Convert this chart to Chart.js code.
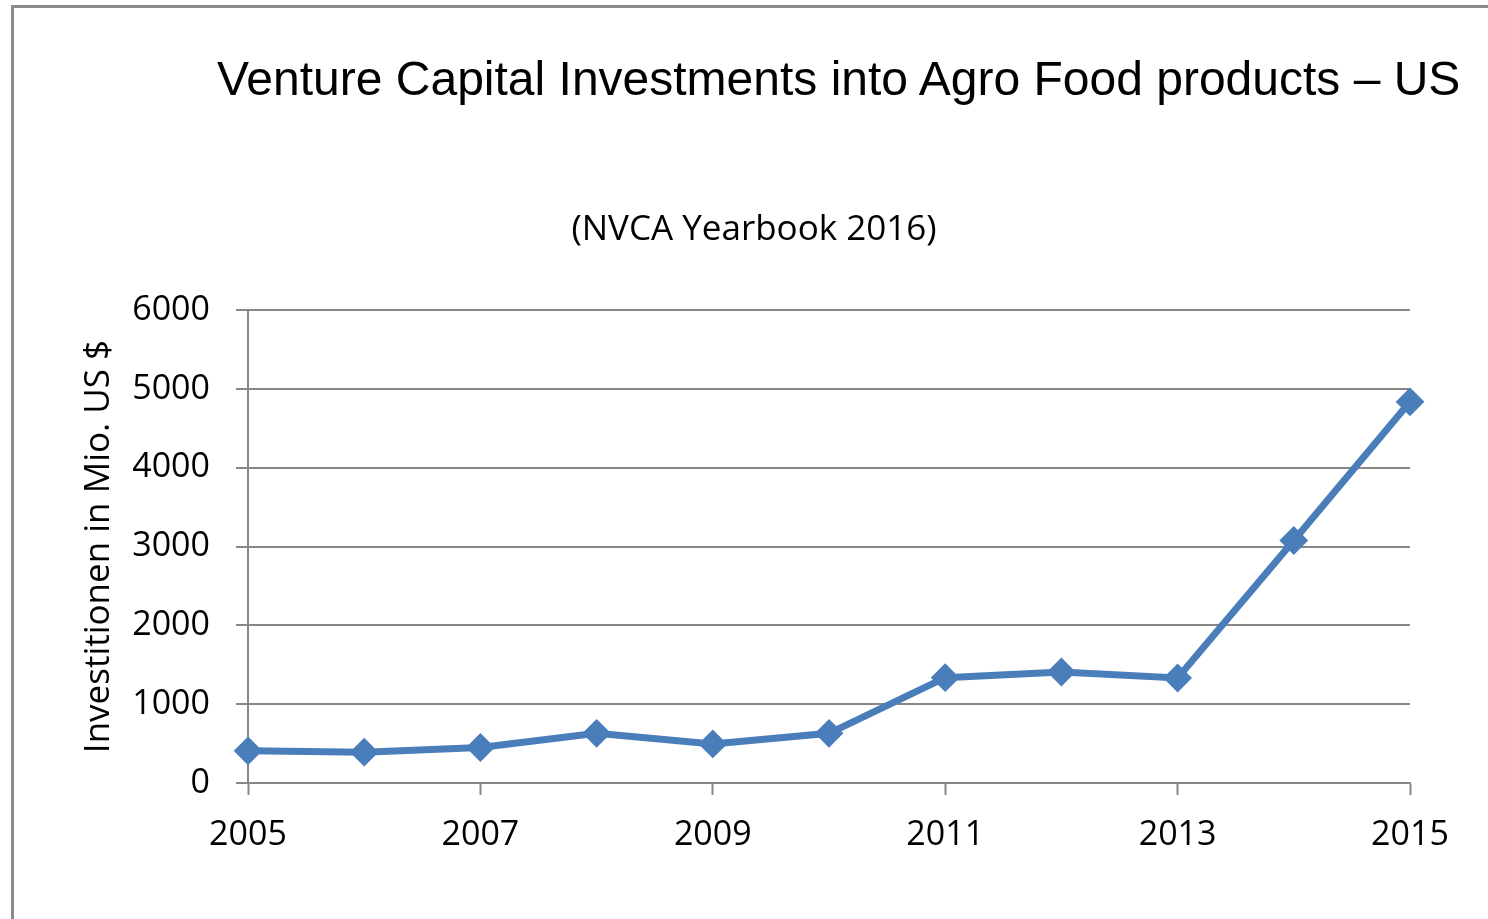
<!DOCTYPE html>
<html>
<head>
<meta charset="utf-8">
<script src="https://cdn.jsdelivr.net/npm/chart.js@4/dist/chart.umd.min.js"></script>
<style>
  html, body { margin: 0; padding: 0; background: #fff; }
  #wrap { position: relative; width: 1488px; height: 919px; overflow: hidden; background: #fff; }
  #frame { position: absolute; left: 11px; top: 5px; width: 1600px; height: 1000px; border: 3px solid #8c8c8c; box-sizing: border-box; }
  #cv { position: absolute; left: 0; top: 0; }
  #title { position: absolute; left: 217px; top: 55px; font-family: "Liberation Sans", Arial, sans-serif; font-size: 48px; line-height: 48px; color: #000; white-space: nowrap; }
  #subtitle { position: absolute; left: 754px; top: 206px; transform: translateX(-50%); font-family: "Open Sans", sans-serif; font-size: 35px; line-height: 42px; color: #000; white-space: nowrap; }
</style>
</head>
<body>
<div id="wrap">
  <div id="frame"></div>
  <canvas id="cv" width="1488" height="919"></canvas>
  <div id="title">Venture Capital Investments into Agro Food products – US</div>
  <div id="subtitle">(NVCA Yearbook 2016)</div>
</div>
<script>
const years = ["2005","2006","2007","2008","2009","2010","2011","2012","2013","2014","2015"];
const investments = [408, 391, 450, 630, 496, 630, 1336, 1408, 1332, 3076, 4835];
const yTicks = [0, 1000, 2000, 3000, 4000, 5000, 6000];
const yAxisTitle = "Investitionen in Mio. US $";

const GRID = "#878787";
const LINE = "#4a7ebb";

new Chart(document.getElementById("cv"), {
  type: "line",
  data: {
    labels: years,
    datasets: [{
      data: investments,
      borderColor: LINE,
      backgroundColor: LINE,
      borderWidth: 7,
      pointStyle: "rectRot",
      pointRadius: 13,
      pointBorderWidth: 2,
      pointBackgroundColor: LINE,
      pointBorderColor: LINE,
      tension: 0,
      fill: false
    }]
  },
  options: {
    responsive: false,
    animation: false,
    layout: { padding: { left: 0, top: 310, right: 78, bottom: 0 } },
    plugins: { legend: { display: false }, tooltip: { enabled: false }, title: { display: false } },
    scales: {
      x: {
        type: "category",
        offset: false,
        afterFit: (s) => { s.height = 136; },
        grid: {
          drawOnChartArea: false,
          drawTicks: true,
          tickLength: 12,
          tickWidth: 2,
          tickColor: (ctx) => (ctx.index % 2 === 0 ? GRID : "rgba(0,0,0,0)")
        },
        border: { display: true, color: GRID, width: 2 },
        ticks: {
          autoSkip: false,
          maxRotation: 0,
          minRotation: 0,
          padding: 20,
          color: "#000",
          font: { family: "Open Sans", size: 34 },
          callback: function(v, i) { return i % 2 === 0 ? years[i] : ""; }
        }
      },
      y: {
        min: yTicks[0],
        max: yTicks[yTicks.length - 1],
        afterFit: (s) => { s.width = 248; },
        afterBuildTicks: (s) => { s.ticks = yTicks.map(v => ({ value: v })); },
        grid: { color: GRID, lineWidth: 2, tickLength: 12, drawTicks: true, tickColor: GRID, tickWidth: 2 },
        border: { display: true, color: GRID, width: 2 },
        ticks: {
          padding: 26,
          color: "#000",
          font: { family: "Open Sans", size: 34 },
          callback: (v) => String(v)
        },
        title: {
          display: true,
          text: yAxisTitle,
          color: "#000",
          font: { family: "Open Sans", size: 35 },
          padding: { top: 78, bottom: 0 }
        }
      }
    }
  }
});
</script>
</body>
</html>
